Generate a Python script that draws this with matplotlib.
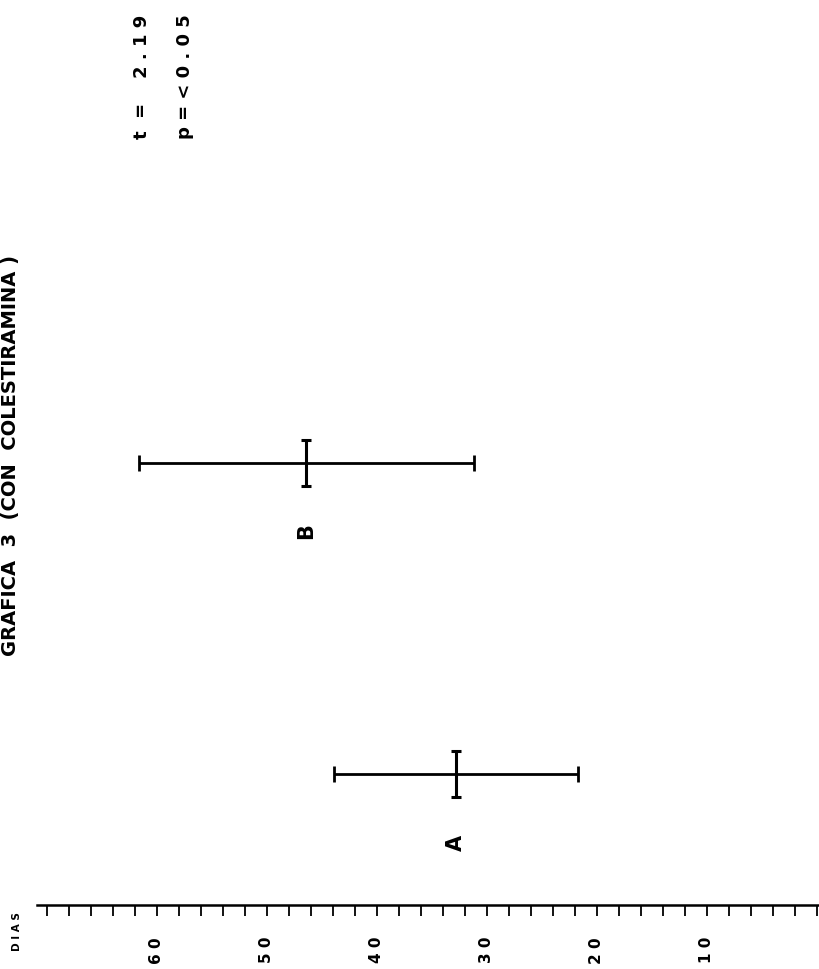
import matplotlib
matplotlib.use("Agg")
import matplotlib.pyplot as plt
import numpy as np

# Datos (dias)
grupos = ["A", "B"]
medias = [32.8, 46.4]
desv = [11.1, 15.2]
t_valor = "2.19"
p_valor = "0.05"
etiquetas_eje = [10, 20, 30, 40, 50, 60]

plt.rcParams['font.family'] = ['DejaVu Sans']

fig = plt.figure(figsize=(8.19, 9.69), dpi=100)
ax = fig.add_axes([37 / 819, 64 / 969, (819 - 37) / 819, 905 / 969])

ypos = np.arange(1, len(grupos) + 1)

# barra de desviacion (horizontal en la hoja girada)
ax.errorbar(medias, ypos, xerr=desv, fmt='none', ecolor='black',
            elinewidth=2.0, capsize=5.5, capthick=2.0)
# marca de la media
ax.errorbar(medias, ypos, yerr=0.074, fmt='none', ecolor='black',
            elinewidth=2.2, capsize=3.8, capthick=2.2)

for g, m, y in zip(grupos, medias, ypos):
    ax.text(m, y - 0.22, g, rotation=90, ha='center', va='center',
            fontsize=15, fontweight='bold')

ax.set_xlim(70.9, -0.2)
ax.set_ylim(0.579, 3.489)

for s in ['top', 'right', 'left']:
    ax.spines[s].set_visible(False)
ax.spines['bottom'].set_linewidth(1.8)
ax.set_yticks([])

ax.set_xticks(etiquetas_eje)
ax.set_xticklabels([" ".join(str(v)) for v in etiquetas_eje], rotation=90,
                   fontsize=11, fontweight='bold')
ax.set_xticks(np.arange(0, 72, 2), minor=True)
ax.tick_params(axis='x', which='both', direction='out', length=8, width=1.3)
ax.tick_params(axis='x', which='major', pad=15)

fig.text(17 / 819, 1 - 932 / 969, "D I A S", rotation=90, ha='center', va='center',
         fontsize=7.5, fontweight='bold')

# estadistico
fig.text(142 / 819, 1 - 139 / 969, "t  =    " + " ".join(t_valor), rotation=90,
         ha='center', va='bottom', fontsize=13, fontweight='bold')
fig.text(185 / 819, 1 - 139 / 969, "p = < " + " ".join(p_valor), rotation=90,
         ha='center', va='bottom', fontsize=13, fontweight='bold')

# titulo
fig.text(11 / 819, 1 - 455 / 969, "GRAFICA  3  (CON  COLESTIRAMINA )", rotation=90,
         ha='center', va='center', fontsize=14, fontweight='bold')

fig.savefig("out.png", dpi=100, facecolor='white')
